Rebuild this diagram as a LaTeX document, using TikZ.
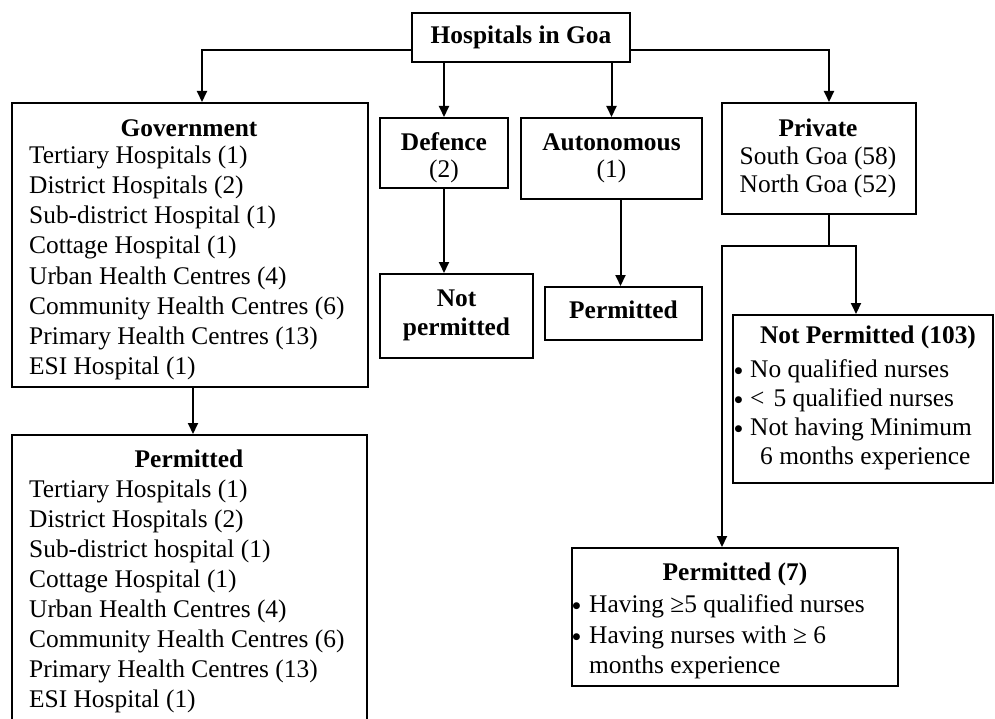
\documentclass[tikz,border=0pt]{standalone}
\usepackage{fontspec}
\setmainfont{Liberation Serif}
\newfontfamily\dotfont{DejaVu Sans}
\usetikzlibrary{arrows.meta}
% list bullet sitting in a fixed-width slot
\newcommand{\itemdot}[1]{\makebox[#1][l]{\hspace{1.5pt}\raisebox{4pt}{\dotfont\fontsize{9}{9}\selectfont ●}}}
\begin{document}
\begin{tikzpicture}[x=1pt,y=-1pt,
  every node/.style={font=\fontsize{25.4}{30}\selectfont, text=black},
  box/.style={draw=black, line width=2pt, rectangle, inner sep=0pt},
  ln/.style={draw=black, line width=2pt},
  arr/.style={ln, -{Triangle[width=10pt,length=11pt]}},
  tc/.style={anchor=base, inner sep=0pt},
  tl/.style={anchor=base west, inner sep=0pt},
  hd/.style={tc, font=\fontsize{25.4}{30}\selectfont\bfseries}]
\useasboundingbox (0,0) rectangle (995,719);
\clip (0,0) rectangle (995,719);

% ---- boxes ----
\node[box, minimum width=218pt, minimum height=49pt]  (hosp)  at (521,37.5)  {};
\node[box, minimum width=356pt, minimum height=284pt] (gov)   at (190,245)   {};
\node[box, minimum width=355pt, minimum height=315pt] (perml) at (189.5,592.5) {};
\node[box, minimum width=128pt, minimum height=70pt]  (def)   at (444,153)   {};
\node[box, minimum width=181pt, minimum height=81pt]  (auto)  at (611.5,158.5) {};
\node[box, minimum width=153pt, minimum height=84pt]  (np)    at (456.5,316) {};
\node[box, minimum width=157pt, minimum height=53pt]  (pm)    at (623.5,313.5) {};
\node[box, minimum width=194pt, minimum height=111pt] (priv)  at (819,158.5) {};
\node[box, minimum width=260pt, minimum height=168pt] (npr)   at (863,399)   {};
\node[box, minimum width=326pt, minimum height=138pt] (p7)    at (735,617)   {};

% ---- texts ----
\node[hd] (hosp-t) at (521,44) {Hospitals in Goa};

\node[hd] (gov-t) at (189,137) {Government};
\foreach \t [count=\i] in {{Tertiary Hospitals (1)},{District Hospitals (2)},
  {Sub-district Hospital (1)},{Cottage Hospital (1)},{Urban Health Centres (4)},
  {Community Health Centres (6)},{Primary Health Centres (13)},{ESI Hospital (1)}}
  \node[tl] (gov-\i) at (29,134+30*\i) {\t};

\node[hd] (perml-t) at (189,467) {Permitted};
\foreach \t [count=\i] in {{Tertiary Hospitals (1)},{District Hospitals (2)},
  {Sub-district hospital (1)},{Cottage Hospital (1)},{Urban Health Centres (4)},
  {Community Health Centres (6)},{Primary Health Centres (13)},{ESI Hospital (1)}}
  \node[tl] (perml-\i) at (29,467+30*\i) {\t};

\node[hd] (def-t)  at (444,150.5) {Defence};
\node[tc] (def-n)  at (444,178)   {(2)};
\node[hd] (auto-t) at (611.5,150.5) {Autonomous};
\node[tc] (auto-n) at (611.5,178)   {(1)};
\node[hd] (np-t1)  at (456.5,306.5) {Not};
\node[hd] (np-t2)  at (456.5,335)   {permitted};
\node[hd] (pm-t)   at (623.5,318)   {Permitted};

\node[hd] (priv-t) at (818,136.5) {Private};
\node[tc] (priv-1) at (818,164.5) {South Goa (58)};
\node[tc] (priv-2) at (818,193)   {North Goa (52)};

\node[hd] (npr-t) at (868,343) {Not Permitted (103)};
\node[tl] (npr-1) at (733,377) {\itemdot{17pt}No qualified nurses};
\node[tl] (npr-2) at (733,406) {\itemdot{17pt}<\hspace{9pt}5 qualified nurses};
\node[tl] (npr-3) at (733,435) {\itemdot{17pt}Not having Minimum};
\node[tl] (npr-4) at (760,464) {6 months experience};

\node[hd] (p7-t) at (735,580) {Permitted (7)};
\node[tl] (p7-1) at (571,612) {\itemdot{18pt}Having ≥5 qualified nurses};
\node[tl] (p7-2) at (571,643) {\itemdot{18pt}Having nurses with ≥ 6};
\node[tl] (p7-3) at (589,673) {months experience};

% ---- connectors ----
\draw[arr] ([yshift=-12.5pt]hosp.west) -| ([xshift=12pt]gov.north);
\draw[arr] (hosp.south -| def.north) -- (def.north);
\draw[arr] (hosp.south -| auto.north) -- (auto.north);
\draw[arr] ([yshift=-12.5pt]hosp.east) -| ([xshift=10pt]priv.north);
\draw[arr] ([xshift=3pt]gov.south) -- ([xshift=3pt]gov.south |- perml.north);
\draw[arr] (def.south) -- (def.south |- np.north);
\draw[arr] ([xshift=-3pt]pm.north |- auto.south) -- ([xshift=-3pt]pm.north);
\coordinate (split) at (829,246);
\draw[ln]  ([xshift=10pt]priv.south) -- (split);
\draw[arr] (split) -| ([xshift=-7pt]npr.north);
\draw[arr] (split) -| ([xshift=-13pt]p7.north);
\end{tikzpicture}
\end{document}
